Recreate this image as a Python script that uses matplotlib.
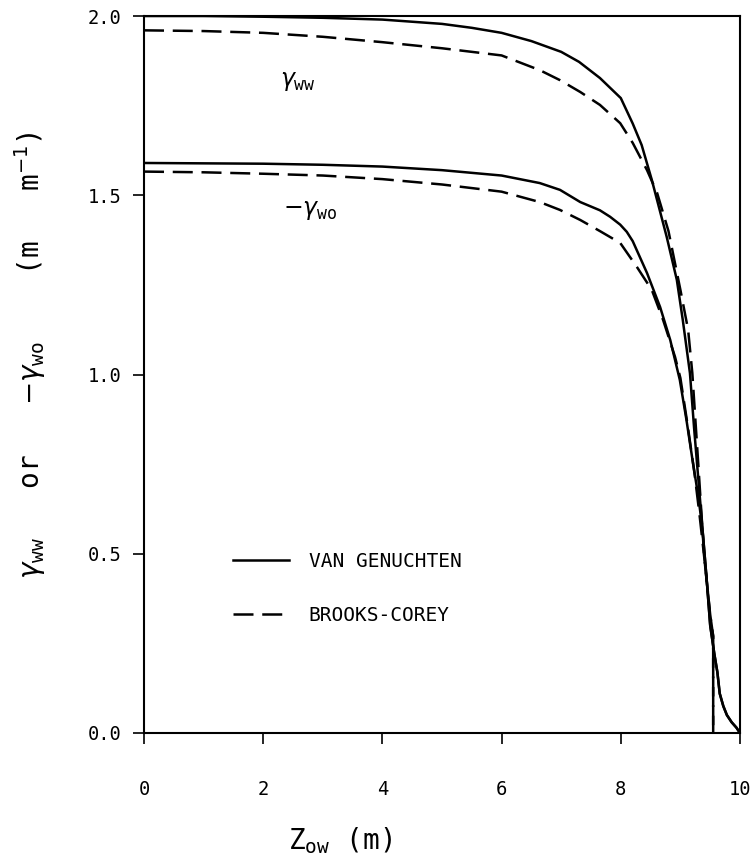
import matplotlib
matplotlib.use("Agg")
import matplotlib.pyplot as plt

# van Genuchten curves (solid)
vg_x_ww = [0, 1, 2, 3, 4, 5, 5.5, 6, 6.5, 7, 7.3, 7.65, 8.0, 8.2, 8.35, 8.52,
           8.77, 8.94, 9.04, 9.16, 9.23, 9.30, 9.37, 9.44, 9.5, 9.57, 9.62,
           9.66, 9.72, 9.78, 9.86, 9.94, 10.0]
vg_y_ww = [2.0, 2.0, 1.998, 1.995, 1.99, 1.978, 1.967, 1.953, 1.93, 1.90, 1.872,
           1.827, 1.771, 1.70, 1.64, 1.543, 1.384, 1.264, 1.152, 1.004, 0.85,
           0.71, 0.57, 0.43, 0.30, 0.22, 0.17, 0.11, 0.075, 0.05, 0.03, 0.015, 0.0]

vg_x_wo = [0, 1, 2, 3, 4, 5, 6, 6.64, 6.98, 7.32, 7.65, 7.82, 7.99, 8.1, 8.2,
           8.44, 8.66, 8.83, 8.99, 9.1, 9.2, 9.30, 9.37, 9.44, 9.5, 9.57, 9.62,
           9.66, 9.72, 9.78, 9.86, 9.94, 10.0]
vg_y_wo = [1.59, 1.589, 1.588, 1.585, 1.58, 1.57, 1.555, 1.534, 1.515, 1.481,
           1.458, 1.44, 1.418, 1.398, 1.372, 1.283, 1.188, 1.096, 0.985, 0.875,
           0.765, 0.66, 0.57, 0.43, 0.30, 0.22, 0.17, 0.11, 0.075, 0.05, 0.03,
           0.015, 0.0]

# Brooks-Corey curves (dashed)
bc_x_ww = [0, 1, 2, 3, 4, 5, 6, 6.64, 6.98, 7.32, 7.65, 7.99, 8.2, 8.44, 8.61,
           8.8, 9.0, 9.13, 9.2, 9.3, 9.4, 9.5, 9.55, 9.55]
bc_y_ww = [1.96, 1.958, 1.953, 1.942, 1.927, 1.91, 1.89, 1.849, 1.821, 1.788,
           1.752, 1.701, 1.646, 1.57, 1.506, 1.40, 1.236, 1.124, 1.004, 0.75,
           0.49, 0.33, 0.27, 0.0]

bc_x_wo = [0, 1, 2, 3, 4, 5, 6, 6.64, 6.98, 7.32, 7.65, 7.99, 8.27, 8.52, 8.71,
           8.91, 9.0, 9.12, 9.24, 9.32, 9.4, 9.5, 9.55, 9.55]
bc_y_wo = [1.566, 1.564, 1.56, 1.555, 1.545, 1.53, 1.51, 1.481, 1.459, 1.431,
           1.40, 1.367, 1.30, 1.236, 1.152, 1.049, 0.99, 0.86, 0.72, 0.61, 0.49,
           0.33, 0.27, 0.0]

x_ticks = [0, 2, 4, 6, 8, 10]
x_tick_labels = ["0", "2", "4", "6", "8", "10"]
y_ticks = [0.0, 0.5, 1.0, 1.5, 2.0]
y_tick_labels = ["0.0", "0.5", "1.0", "1.5", "2.0"]

mono = "DejaVu Sans Mono"
plt.rcParams["mathtext.fontset"] = "dejavusans"

fig = plt.figure(figsize=(7.56, 8.57), dpi=100)
ax = fig.add_axes([144 / 756, 1 - 733 / 857, 596 / 756, 717 / 857])

lw = 1.8
dash = (8, 3.5)
ax.plot(vg_x_ww, vg_y_ww, color="black", lw=lw, label="VAN GENUCHTEN")
ax.plot(vg_x_wo, vg_y_wo, color="black", lw=lw)
ax.plot(bc_x_ww, bc_y_ww, color="black", lw=lw, dashes=dash, label="BROOKS-COREY")
ax.plot(bc_x_wo, bc_y_wo, color="black", lw=lw, dashes=dash)

ax.set_xlim(0, 10)
ax.set_ylim(0, 2.0)
ax.set_xticks(x_ticks)
ax.set_xticklabels(x_tick_labels, family=mono, fontsize=13.5)
ax.set_yticks(y_ticks)
ax.set_yticklabels(y_tick_labels, family=mono, fontsize=13.5)
ax.tick_params(axis="x", direction="out", length=8, width=1.2, pad=26)
ax.tick_params(axis="y", direction="out", length=8, width=1.2, pad=8)
for s in ax.spines.values():
    s.set_linewidth(1.5)

# curve labels
ax.text(2.28, 1.82, r"$\gamma_{\mathtt{ww}}$", fontsize=17,
        ha="left", va="center")
ax.text(2.33, 1.46, r"$-\gamma_{\mathtt{wo}}$", fontsize=17,
        ha="left", va="center")

leg = ax.legend(loc="center left", bbox_to_anchor=(0.149, 0.2015), frameon=False,
                prop={"family": mono, "size": 14}, handlelength=2.9,
                handletextpad=1.0, labelspacing=1.8, borderpad=0, borderaxespad=0)

fig.text(30 / 756, 1 - 355 / 857,
         r"$\gamma_{\mathtt{ww}}$   or   $-\gamma_{\mathtt{wo}}$"
         r"    (m   m$^{-1}$)",
         rotation=90, ha="center", va="center", fontsize=20, family=mono)
fig.text(340 / 756, 1 - 849 / 857, r"$\mathtt{Z}_{\mathtt{ow}}$ (m)",
         ha="center", va="baseline", fontsize=20, family=mono)

fig.savefig("out.png", dpi=100)
